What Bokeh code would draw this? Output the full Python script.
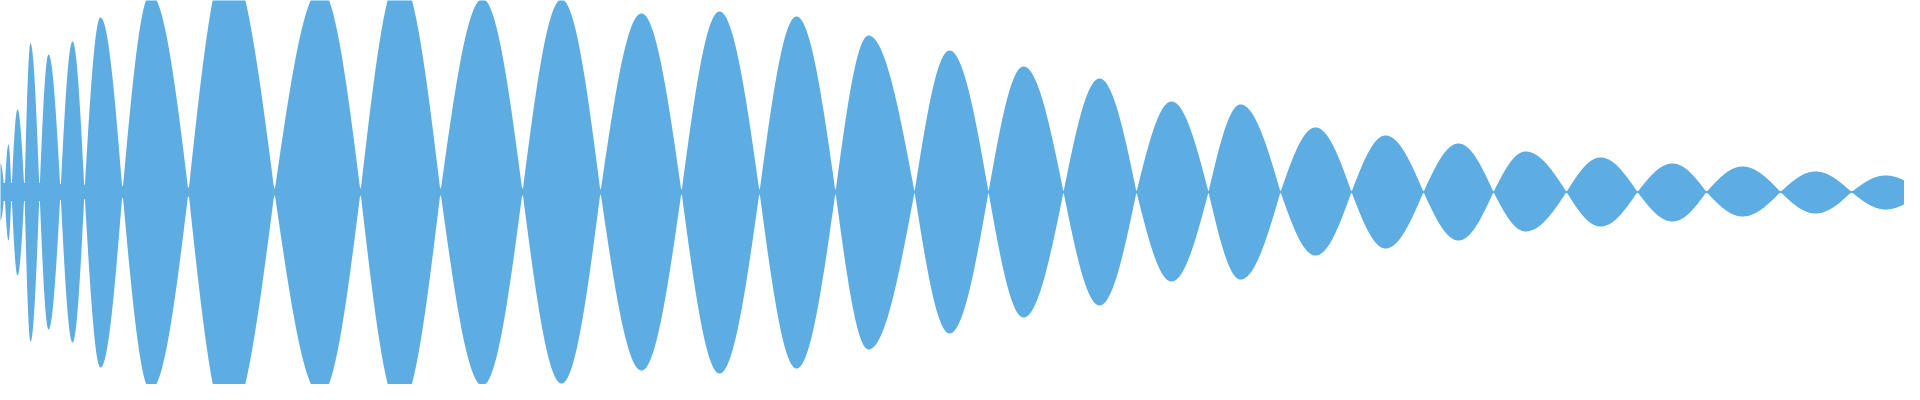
import numpy as np
from bokeh.plotting import figure
from bokeh.models import Range1d
from bokeh.embed import file_html
from bokeh.resources import INLINE

# Zero crossings of the waveform (x position)
crossings = [0, 5, 12, 19, 32, 47, 68, 92, 130, 196, 282, 368, 448, 530, 608, 689,
             767, 843, 922, 996, 1071, 1144, 1216, 1288, 1359, 1431, 1501, 1574,
             1645, 1714, 1788, 1859, 1930]
# Peak position of each lobe
peaks = [1, 8, 16, 25, 38, 56, 80, 108, 158, 235, 328, 407, 490, 569, 649, 727,
         804, 876, 957, 1031, 1107, 1179, 1248, 1323, 1393, 1466, 1533, 1608,
         1680, 1750, 1823, 1893]
# Upper and lower amplitudes of each lobe
upper = [37.5, 28.5, 47.5, 82.5, 148.5, 137.5, 150.5, 174.5, 198, 232, 203, 216,
         193, 192.5, 178.5, 180.5, 175.5, 156.5, 141.5, 125.5, 113.5, 90.5, 87.5,
         64.5, 56.5, 48.5, 40.5, 34.5, 28.5, 25.5, 20.5, 16.5]
lower = [37.5, 28.5, 48.5, 83.5, 149.5, 137.5, 150.5, 175.5, 198, 232, 203, 216,
         193.5, 191.5, 178.5, 181.5, 176.5, 157.5, 141.5, 125.5, 113.5, 89.5, 87.5,
         63.5, 56.5, 48.5, 39.5, 34.5, 29.5, 24.5, 21.5, 17.5]
# Residual half-width at each crossing
necks = [9, 9, 9, 9, 9, 9, 8, 7, 6, 4, 3, 3, 3, 3, 2, 2, 2, 2, 1, 1, 1, 1, 1, 1,
         1, 1, 1, 1, 1, 1, 1, 1, 1]

xs, y_top, y_bot = [], [], []
for i in range(len(peaks)):
    c0, c1, pk = crossings[i], crossings[i + 1], peaks[i]
    n0, n1 = necks[i], necks[i + 1]
    for a, b, rising in ((c0, pk, True), (pk, c1, False)):
        if b <= a:
            continue
        t = np.linspace(0, 1, 60)
        xx = a + (b - a) * t
        s = np.sin(np.pi / 2 * (t if rising else 1 - t))
        u = (xx - c0) / max(c1 - c0, 1e-9)
        neck = n0 * (1 - u) + n1 * u
        xs.extend(xx.tolist())
        y_top.extend(np.maximum(upper[i] * s, neck).tolist())
        y_bot.extend((-np.maximum(lower[i] * s, neck)).tolist())

p = figure(width=1904, height=384, x_range=Range1d(8, 1912),
           y_range=Range1d(-192.5, 191.5), output_backend="svg",
           toolbar_location=None, x_axis_type=None, y_axis_type=None,
           min_border=0, outline_line_color=None,
           background_fill_color="white", border_fill_color="white")
p.grid.visible = False
p.varea(x=xs, y1=y_bot, y2=y_top, fill_color="#5dade2", fill_alpha=1.0)

open("out.html", "w").write(file_html(p, INLINE))
